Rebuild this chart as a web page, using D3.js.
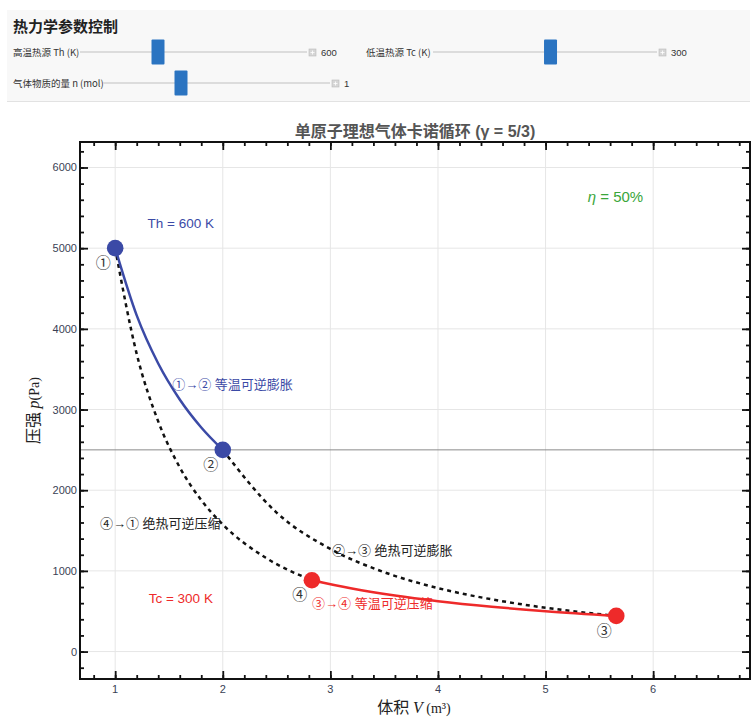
<!DOCTYPE html>
<html lang="zh">
<head>
<meta charset="UTF-8">
<title>单原子理想气体卡诺循环</title>
<script src="https://d3js.org/d3.v7.min.js"></script>
<style>
  body { margin: 0; background: #fff; }
  text { font-family: "Liberation Sans", "Noto Sans CJK SC", sans-serif; }
</style>
</head>
<body>
<svg id="chart"></svg>
<script>
// slider panel
var sliderLabels = ["高温热源 Th (K)", "低温热源 Tc (K)", "气体物质的量 n (mol)"];
var sliderValues = [600, 300, 1];
var sliderRanges = [[400, 1000], [100, 480], [0.5, 2]];

// corner states of the cycle (V in m³, p in Pa)
var stateNames = ["①", "②", "③", "④"];
var stateV = [1, 2, 5.657, 2.828];
var stateP = [5000, 2500, 442, 884];

// the four branches
var iso12V = [1, 1.2, 1.4, 1.6, 1.8, 2.0];
var iso12P = [5000, 4167, 3571, 3125, 2778, 2500];
var adi23V = [2, 2.5, 3, 3.5, 4, 4.5, 5, 5.657];
var adi23P = [2500, 1723, 1272, 984, 787, 647, 543, 442];
var iso34V = [2.828, 3.2, 3.6, 4, 4.5, 5, 5.657];
var iso34P = [884, 781, 694, 625, 556, 500, 442];
var adi41V = [1, 1.2, 1.4, 1.6, 1.8, 2.0, 2.4, 2.828];
var adi41P = [5000, 3690, 2853, 2284, 1877, 1575, 1162, 884];

var xTicks = [1, 2, 3, 4, 5, 6];
var yTicks = [0, 1000, 2000, 3000, 4000, 5000, 6000];

var width = 756, height = 719;
var svg = d3.select("#chart").attr("width", width).attr("height", height);

// ---- control panel ----
svg.append("rect").attr("x", 7).attr("y", 10).attr("width", 743).attr("height", 91)
    .attr("fill", "#f8f8f8");
svg.append("line").attr("x1", 7).attr("x2", 750).attr("y1", 101.5).attr("y2", 101.5)
    .attr("stroke", "#e2e2e2");
svg.append("text").attr("x", 13).attr("y", 32).text("热力学参数控制")
    .attr("font-size", 15).attr("font-weight", "bold").attr("fill", "#222")
    .style("font-family", "'Noto Sans CJK SC', sans-serif");

var sliderBox = [
    {x: 13, y: 52, x0: 80, x1: 307},
    {x: 366, y: 52, x0: 433, x1: 657},
    {x: 13, y: 83, x0: 103, x1: 330}
];
sliderLabels.forEach(function(lab, i) {
    var b = sliderBox[i];
    var s = d3.scaleLinear().domain(sliderRanges[i]).range([b.x0 + 7, b.x1 - 7]);
    var g = svg.append("g");
    g.append("text").attr("x", b.x).attr("y", b.y + 3.5).text(lab)
        .attr("font-size", 9.5).attr("fill", "#333")
        .style("font-family", "'Noto Sans CJK SC', sans-serif");
    g.append("line").attr("x1", b.x0).attr("x2", b.x1).attr("y1", b.y).attr("y2", b.y)
        .attr("stroke", "#dcdcdc").attr("stroke-width", 2);
    g.append("rect").attr("x", s(sliderValues[i]) - 6.5).attr("y", b.y - 12.5)
        .attr("width", 13).attr("height", 25).attr("rx", 1)
        .attr("fill", "#2b74c1");
    g.append("rect").attr("x", b.x1 + 2).attr("y", b.y - 3).attr("width", 7).attr("height", 7)
        .attr("fill", "#d6d6d6").attr("stroke", "#bbb").attr("stroke-width", 0.6);
    g.append("path").attr("d", "M" + (b.x1 + 3.5) + "," + (b.y + 0.5) + "h4M" + (b.x1 + 5.5) + "," + (b.y - 1.5) + "v4")
        .attr("stroke", "#fff").attr("stroke-width", 0.8);
    g.append("text").attr("x", b.x1 + 14).attr("y", b.y + 3.5).text(sliderValues[i])
        .attr("font-size", 9.5).attr("fill", "#333");
});

// ---- plot ----
var pL = 80, pR = 750, pT = 142, pB = 679;
var x = d3.scaleLinear().domain([0.673, 6.9]).range([pL, pR]);
var y = d3.scaleLinear().domain([-340, 6316]).range([pB, pT]);

svg.append("text").attr("x", (pL + pR) / 2).attr("y", 137)
    .attr("text-anchor", "middle").attr("font-size", 16).attr("font-weight", "bold")
    .attr("fill", "#555")
    .text("单原子理想气体卡诺循环 (γ = 5/3)");

// grid
svg.append("g").selectAll("line").data(xTicks).enter().append("line")
    .attr("x1", function(d) { return x(d); }).attr("x2", function(d) { return x(d); })
    .attr("y1", pT).attr("y2", pB).attr("stroke", "#e6e6e6");
svg.append("g").selectAll("line").data(yTicks).enter().append("line")
    .attr("y1", function(d) { return y(d); }).attr("y2", function(d) { return y(d); })
    .attr("x1", pL).attr("x2", pR).attr("stroke", "#e6e6e6");
svg.append("line").attr("x1", pL).attr("x2", pR)
    .attr("y1", y(2500)).attr("y2", y(2500)).attr("stroke", "#8a8a8a").attr("stroke-width", 1);

// frame ticks, pointing inward on all sides
function frameAxes() {
    var xMinor = d3.range(0.8, 6.81, 0.2).map(function(v) { return +v.toFixed(1); });
    var yMinor = d3.range(-200, 6201, 200);
    var sets = [
        [d3.axisBottom(x).tickValues(xMinor), 4, "0," + pB],
        [d3.axisTop(x).tickValues(xMinor), 4, "0," + pT],
        [d3.axisLeft(y).tickValues(yMinor), 4, pL + ",0"],
        [d3.axisRight(y).tickValues(yMinor), 4, pR + ",0"],
        [d3.axisBottom(x).tickValues(xTicks), 8, "0," + pB],
        [d3.axisTop(x).tickValues(xTicks), 8, "0," + pT],
        [d3.axisLeft(y).tickValues(yTicks), 8, pL + ",0"],
        [d3.axisRight(y).tickValues(yTicks), 8, pR + ",0"]
    ];
    sets.forEach(function(a) {
        a[0].tickSizeInner(-a[1]).tickSizeOuter(0).tickFormat("");
        var g = svg.append("g").attr("transform", "translate(" + a[2] + ")").call(a[0]);
        g.select(".domain").remove();
        g.selectAll(".tick line").attr("stroke", "#111").attr("stroke-width", 1.8);
    });
}
frameAxes();

// tick labels
svg.append("g").selectAll("text").data(xTicks).enter().append("text")
    .attr("x", function(d) { return x(d); }).attr("y", pB + 14)
    .attr("text-anchor", "middle").attr("font-size", 11).attr("fill", "#3a3f55")
    .text(function(d) { return d; });
svg.append("g").selectAll("text").data(yTicks).enter().append("text")
    .attr("x", pL - 3).attr("y", function(d) { return y(d) + 4; })
    .attr("text-anchor", "end").attr("font-size", 11).attr("fill", "#3a3f55")
    .text(function(d) { return d; });

svg.append("rect").attr("x", pL).attr("y", pT).attr("width", pR - pL).attr("height", pB - pT)
    .attr("fill", "none").attr("stroke", "#111").attr("stroke-width", 2);

// axis titles
var xl = svg.append("text").attr("x", 414).attr("y", 713).attr("text-anchor", "middle")
    .attr("font-size", 16).attr("fill", "#222");
xl.append("tspan").text("体积 ").style("font-family", "'Noto Sans CJK SC', sans-serif");
xl.append("tspan").text("V").attr("font-style", "italic").style("font-family", "'Liberation Serif', serif");
xl.append("tspan").text(" (m³)").attr("font-size", 14).style("font-family", "'Liberation Serif', serif");

var yl = svg.append("text").attr("transform", "translate(39," + ((pT + pB) / 2) + ") rotate(-90)")
    .attr("text-anchor", "middle").attr("font-size", 16).attr("fill", "#222");
yl.append("tspan").text("压强 ").style("font-family", "'Noto Sans CJK SC', sans-serif");
yl.append("tspan").text("p").attr("font-style", "italic").style("font-family", "'Liberation Serif', serif");
yl.append("tspan").text("(Pa)").attr("font-size", 14).style("font-family", "'Liberation Serif', serif");

// curves
var line = d3.line()
    .x(function(d) { return x(d[0]); })
    .y(function(d) { return y(d[1]); })
    .curve(d3.curveMonotoneX);
function branch(vs, ps) { return vs.map(function(v, i) { return [v, ps[i]]; }); }

var branches = [
    {pts: branch(adi23V, adi23P), color: "#111", dash: "4,4"},
    {pts: branch(adi41V, adi41P), color: "#111", dash: "4,4"},
    {pts: branch(iso12V, iso12P), color: "#3b4aa6", dash: null},
    {pts: branch(iso34V, iso34P), color: "#ee2a2a", dash: null}
];
svg.append("g").selectAll("path").data(branches).enter().append("path")
    .attr("d", function(d) { return line(d.pts); })
    .attr("fill", "none")
    .attr("stroke", function(d) { return d.color; })
    .attr("stroke-width", 2.5)
    .attr("stroke-dasharray", function(d) { return d.dash; });

// state points
var pointColors = ["#3b4aa6", "#3b4aa6", "#ee2a2a", "#ee2a2a"];
svg.append("g").selectAll("circle").data(stateV).enter().append("circle")
    .attr("cx", function(d) { return x(d); })
    .attr("cy", function(d, i) { return y(stateP[i]); })
    .attr("r", 8.3)
    .attr("fill", function(d, i) { return pointColors[i]; });
svg.append("g").selectAll("text").data(stateV).enter().append("text")
    .attr("x", function(d) { return x(d) - 12; })
    .attr("y", function(d, i) { return y(stateP[i]) + 20; })
    .attr("text-anchor", "middle").attr("font-size", 15).attr("fill", "#333")
    .style("font-family", "'Noto Sans CJK SC', sans-serif")
    .text(function(d, i) { return stateNames[i]; });

// annotations (in data units)
var notes = [
    {v: 1.61, p: 5310, t: "Th = 600 K", c: "#3b4aa6", a: "middle", s: 13.5},
    {v: 5.65, p: 5634, t: "η = 50%", c: "#3aa63a", a: "middle", s: 15},
    {v: 1.61, p: 665, t: "Tc = 300 K", c: "#ee2a2a", a: "middle", s: 13.5},
    {v: 1.53, p: 3317, t: "①→② 等温可逆膨胀", c: "#3b4aa6", a: "start", s: 13},
    {v: 3.015, p: 1260, t: "②→③ 绝热可逆膨胀", c: "#222", a: "start", s: 13},
    {v: 0.859, p: 1595, t: "④→① 绝热可逆压缩", c: "#222", a: "start", s: 13},
    {v: 2.83, p: 603, t: "③→④ 等温可逆压缩", c: "#ee2a2a", a: "start", s: 13}
];
svg.append("g").selectAll("text").data(notes).enter().append("text")
    .attr("x", function(d) { return x(d.v); })
    .attr("y", function(d) { return y(d.p) + 5; })
    .attr("text-anchor", function(d) { return d.a; })
    .attr("font-size", function(d) { return d.s; })
    .attr("fill", function(d) { return d.c; })
    .each(function(d) {
        var el = d3.select(this);
        if (d.t.indexOf("η") === 0) {
            el.append("tspan").text("η").attr("font-style", "italic");
            el.append("tspan").text(d.t.slice(1));
        } else {
            el.text(d.t);
        }
    });
</script>
</body>
</html>
